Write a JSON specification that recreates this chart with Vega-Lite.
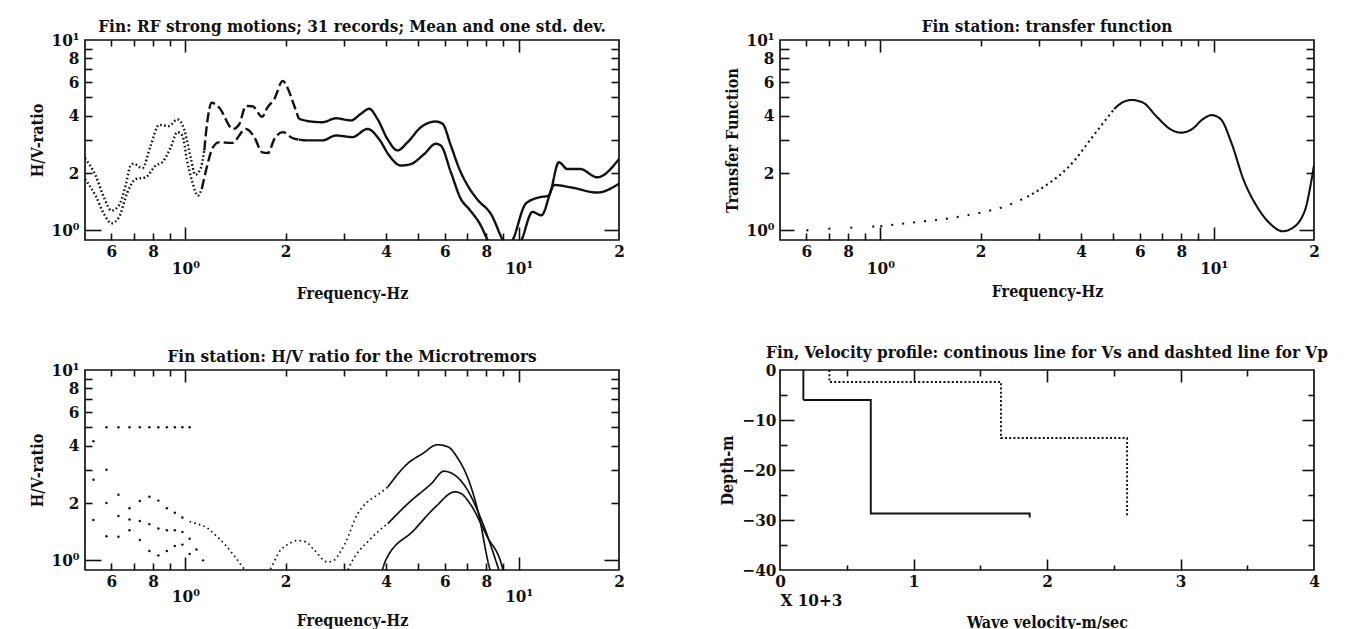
{
  "$schema": "https://vega.github.io/schema/vega-lite/v6.json",
  "background": "white",
  "padding": {"left": 28, "top": 17, "right": 10, "bottom": 2},
  "columns": 2,
  "spacing": {"row": 130, "column": 161},
  "bounds": "flush",
  "resolve": {"scale": {"strokeDash": "independent"}},
  "config": {
    "font": "DejaVu Serif Condensed, DejaVu Serif, serif",
    "view": {"stroke": "#111", "strokeWidth": 1.7},
    "axis": {
      "labelFont": "DejaVu Serif Condensed, DejaVu Serif, serif",
      "labelFontSize": 17, "labelFontWeight": "bold", "labelColor": "#111",
      "titleFont": "DejaVu Serif Condensed, DejaVu Serif, serif",
      "titleFontSize": 16, "titleFontWeight": "bold", "titleColor": "#111",
      "tickColor": "#111", "tickWidth": 1.6, "tickOpacity": 1, "labelOverlap": false, "grid": false
    },
    "title": {"font": "DejaVu Serif Condensed, DejaVu Serif, serif", "fontSize": 17, "fontWeight": "bold", "color": "#111", "anchor": "middle", "frame": "group"}
  },
  "datasets": {
    "quake_hv": [
      {"f":0.5,"v":2.39,"curve":"upper","seg":"dot"},{"f":0.538,"v":1.94,"curve":"upper","seg":"dot"},{"f":0.57,"v":1.49,"curve":"upper","seg":"dot"},{"f":0.6,"v":1.27,"curve":"upper","seg":"dot"},{"f":0.632,"v":1.35,"curve":"upper","seg":"dot"},{"f":0.662,"v":1.72,"curve":"upper","seg":"dot"},{"f":0.685,"v":2.19,"curve":"upper","seg":"dot"},{"f":0.7,"v":2.24,"curve":"upper","seg":"dot"},{"f":0.743,"v":2.12,"curve":"upper","seg":"dot"},{"f":0.787,"v":2.79,"curve":"upper","seg":"dot"},{"f":0.834,"v":3.58,"curve":"upper","seg":"dot"},{"f":0.893,"v":3.53,"curve":"upper","seg":"dot"},{"f":0.946,"v":3.83,"curve":"upper","seg":"dot"},{"f":0.991,"v":3.41,"curve":"upper","seg":"dot"},{"f":1.04,"v":2.37,"curve":"upper","seg":"dot"},{"f":1.07,"v":1.96,"curve":"upper","seg":"dot"},{"f":1.11,"v":2.1,"curve":"upper","seg":"dot"},{"f":1.14,"v":2.63,"curve":"upper","seg":"dot"},
      {"f":1.14,"v":2.63,"curve":"upper","seg":"dash"},{"f":1.16,"v":3.56,"curve":"upper","seg":"dash"},{"f":1.2,"v":4.68,"curve":"upper","seg":"dash"},{"f":1.26,"v":4.44,"curve":"upper","seg":"dash"},{"f":1.39,"v":3.41,"curve":"upper","seg":"dash"},{"f":1.45,"v":3.6,"curve":"upper","seg":"dash"},{"f":1.52,"v":4.5,"curve":"upper","seg":"dash"},{"f":1.59,"v":4.49,"curve":"upper","seg":"dash"},{"f":1.7,"v":3.95,"curve":"upper","seg":"dash"},{"f":1.76,"v":4.4,"curve":"upper","seg":"dash"},{"f":1.85,"v":4.91,"curve":"upper","seg":"dash"},{"f":1.96,"v":6.1,"curve":"upper","seg":"dash"},{"f":2.02,"v":5.66,"curve":"upper","seg":"dash"},{"f":2.12,"v":4.53,"curve":"upper","seg":"dash"},{"f":2.19,"v":3.85,"curve":"upper","seg":"dash"},
      {"f":2.19,"v":3.85,"curve":"upper","seg":"solid"},{"f":2.38,"v":3.73,"curve":"upper","seg":"solid"},{"f":2.58,"v":3.7,"curve":"upper","seg":"solid"},{"f":2.83,"v":3.88,"curve":"upper","seg":"solid"},{"f":3.14,"v":3.78,"curve":"upper","seg":"solid"},{"f":3.36,"v":4.09,"curve":"upper","seg":"solid"},{"f":3.56,"v":4.35,"curve":"upper","seg":"solid"},{"f":3.77,"v":3.85,"curve":"upper","seg":"solid"},{"f":4.04,"v":3.02,"curve":"upper","seg":"solid"},{"f":4.33,"v":2.63,"curve":"upper","seg":"solid"},{"f":4.64,"v":2.9,"curve":"upper","seg":"solid"},{"f":5.09,"v":3.48,"curve":"upper","seg":"solid"},{"f":5.64,"v":3.73,"curve":"upper","seg":"solid"},{"f":5.91,"v":3.63,"curve":"upper","seg":"solid"},{"f":6.26,"v":2.79,"curve":"upper","seg":"solid"},{"f":6.64,"v":2.1,"curve":"upper","seg":"solid"},{"f":7.03,"v":1.72,"curve":"upper","seg":"solid"},{"f":7.5,"v":1.46,"curve":"upper","seg":"solid"},{"f":8.3,"v":1.2,"curve":"upper","seg":"solid"},{"f":8.95,"v":0.89,"curve":"upper","seg":"solid"},{"f":9.25,"v":0.8,"curve":"upper","seg":"solid"},{"f":9.6,"v":0.89,"curve":"upper","seg":"solid"},{"f":10.5,"v":1.38,"curve":"upper","seg":"solid"},{"f":11.5,"v":1.49,"curve":"upper","seg":"solid"},{"f":12.3,"v":1.52,"curve":"upper","seg":"solid"},{"f":13.2,"v":2.28,"curve":"upper","seg":"solid"},{"f":14.0,"v":2.1,"curve":"upper","seg":"solid"},{"f":15.3,"v":2.1,"curve":"upper","seg":"solid"},{"f":17.2,"v":1.9,"curve":"upper","seg":"solid"},{"f":20,"v":2.37,"curve":"upper","seg":"solid"},
      {"f":0.5,"v":1.86,"curve":"mean","seg":"dot"},{"f":0.538,"v":1.52,"curve":"mean","seg":"dot"},{"f":0.57,"v":1.22,"curve":"mean","seg":"dot"},{"f":0.6,"v":1.09,"curve":"mean","seg":"dot"},{"f":0.632,"v":1.17,"curve":"mean","seg":"dot"},{"f":0.67,"v":1.58,"curve":"mean","seg":"dot"},{"f":0.71,"v":1.86,"curve":"mean","seg":"dot"},{"f":0.76,"v":1.9,"curve":"mean","seg":"dot"},{"f":0.815,"v":2.19,"curve":"mean","seg":"dot"},{"f":0.853,"v":2.28,"curve":"mean","seg":"dot"},{"f":0.904,"v":2.73,"curve":"mean","seg":"dot"},{"f":0.946,"v":3.28,"curve":"mean","seg":"dot"},{"f":0.98,"v":3.15,"curve":"mean","seg":"dot"},{"f":1.01,"v":2.37,"curve":"mean","seg":"dot"},{"f":1.05,"v":1.79,"curve":"mean","seg":"dot"},{"f":1.09,"v":1.52,"curve":"mean","seg":"dot"},{"f":1.12,"v":1.65,"curve":"mean","seg":"dot"},
      {"f":1.12,"v":1.65,"curve":"mean","seg":"dash"},{"f":1.15,"v":2.02,"curve":"mean","seg":"dash"},{"f":1.21,"v":2.73,"curve":"mean","seg":"dash"},{"f":1.26,"v":2.9,"curve":"mean","seg":"dash"},{"f":1.38,"v":2.88,"curve":"mean","seg":"dash"},{"f":1.52,"v":3.41,"curve":"mean","seg":"dash"},{"f":1.61,"v":3.09,"curve":"mean","seg":"dash"},{"f":1.7,"v":2.57,"curve":"mean","seg":"dash"},{"f":1.77,"v":2.55,"curve":"mean","seg":"dash"},{"f":1.85,"v":3.02,"curve":"mean","seg":"dash"},{"f":1.96,"v":3.28,"curve":"mean","seg":"dash"},{"f":2.1,"v":3.05,"curve":"mean","seg":"dash"},{"f":2.19,"v":3.0,"curve":"mean","seg":"dash"},
      {"f":2.19,"v":3.0,"curve":"mean","seg":"solid"},{"f":2.32,"v":2.97,"curve":"mean","seg":"solid"},{"f":2.58,"v":2.97,"curve":"mean","seg":"solid"},{"f":2.83,"v":3.15,"curve":"mean","seg":"solid"},{"f":3.17,"v":3.09,"curve":"mean","seg":"solid"},{"f":3.52,"v":3.41,"curve":"mean","seg":"solid"},{"f":3.81,"v":3.02,"curve":"mean","seg":"solid"},{"f":4.09,"v":2.47,"curve":"mean","seg":"solid"},{"f":4.43,"v":2.19,"curve":"mean","seg":"solid"},{"f":4.75,"v":2.23,"curve":"mean","seg":"solid"},{"f":5.21,"v":2.52,"curve":"mean","seg":"solid"},{"f":5.64,"v":2.85,"curve":"mean","seg":"solid"},{"f":5.84,"v":2.79,"curve":"mean","seg":"solid"},{"f":6.26,"v":2.02,"curve":"mean","seg":"solid"},{"f":6.71,"v":1.46,"curve":"mean","seg":"solid"},{"f":7.11,"v":1.29,"curve":"mean","seg":"solid"},{"f":7.7,"v":1.06,"curve":"mean","seg":"solid"},{"f":8.07,"v":0.89,"curve":"mean","seg":"solid"},{"f":9.0,"v":0.7,"curve":"mean","seg":"solid"},{"f":10.2,"v":0.89,"curve":"mean","seg":"solid"},{"f":11.0,"v":1.25,"curve":"mean","seg":"solid"},{"f":11.7,"v":1.2,"curve":"mean","seg":"solid"},{"f":12.8,"v":1.73,"curve":"mean","seg":"solid"},{"f":14.4,"v":1.68,"curve":"mean","seg":"solid"},{"f":17.2,"v":1.58,"curve":"mean","seg":"solid"},{"f":20,"v":1.76,"curve":"mean","seg":"solid"}
    ],
    "transfer": [
      {"f":0.6,"v":1.0,"seg":"s1"},{"f":0.7,"v":1.02,"seg":"s1"},{"f":0.787,"v":1.03,"seg":"s1"},{"f":0.874,"v":1.04,"seg":"s1"},{"f":1.0,"v":1.05,"seg":"s1"},
      {"f":1.0,"v":1.05,"seg":"s2"},{"f":1.31,"v":1.11,"seg":"s2"},{"f":1.52,"v":1.14,"seg":"s2"},{"f":1.77,"v":1.19,"seg":"s2"},{"f":2.05,"v":1.25,"seg":"s2"},{"f":2.38,"v":1.34,"seg":"s2"},{"f":2.76,"v":1.5,"seg":"s2"},
      {"f":2.76,"v":1.5,"seg":"s3"},{"f":3.21,"v":1.77,"seg":"s3"},{"f":3.51,"v":2.0,"seg":"s3"},{"f":3.84,"v":2.35,"seg":"s3"},{"f":4.2,"v":2.89,"seg":"s3"},{"f":4.59,"v":3.54,"seg":"s3"},{"f":5.03,"v":4.34,"seg":"s3"},
      {"f":5.03,"v":4.34,"seg":"s4"},{"f":5.34,"v":4.71,"seg":"s4"},{"f":5.67,"v":4.84,"seg":"s4"},{"f":6.11,"v":4.71,"seg":"s4"},{"f":6.78,"v":3.92,"seg":"s4"},{"f":7.41,"v":3.4,"seg":"s4"},{"f":8.0,"v":3.26,"seg":"s4"},{"f":8.61,"v":3.4,"seg":"s4"},{"f":9.29,"v":3.84,"seg":"s4"},{"f":9.86,"v":4.03,"seg":"s4"},{"f":10.5,"v":3.84,"seg":"s4"},{"f":11.3,"v":2.89,"seg":"s4"},{"f":12.3,"v":1.84,"seg":"s4"},{"f":13.5,"v":1.33,"seg":"s4"},{"f":14.8,"v":1.08,"seg":"s4"},{"f":16.1,"v":0.99,"seg":"s4"},{"f":17.1,"v":1.02,"seg":"s4"},{"f":18.8,"v":1.28,"seg":"s4"},{"f":19.5,"v":1.7,"seg":"s4"},{"f":20,"v":2.2,"seg":"s4"}
    ],
    "micro_lines": [
      {"f":1.03,"v":1.6,"curve":"upper","seg":"dot"},{"f":1.08,"v":1.56,"curve":"upper","seg":"dot"},{"f":1.17,"v":1.47,"curve":"upper","seg":"dot"},{"f":1.23,"v":1.36,"curve":"upper","seg":"dot"},{"f":1.31,"v":1.22,"curve":"upper","seg":"dot"},{"f":1.4,"v":1.06,"curve":"upper","seg":"dot"},{"f":1.52,"v":0.88,"curve":"upper","seg":"dot"},{"f":1.65,"v":0.78,"curve":"upper","seg":"dot"},{"f":1.79,"v":0.89,"curve":"upper","seg":"dot"},{"f":1.93,"v":1.13,"curve":"upper","seg":"dot"},{"f":2.04,"v":1.22,"curve":"upper","seg":"dot"},{"f":2.17,"v":1.27,"curve":"upper","seg":"dot"},{"f":2.3,"v":1.25,"curve":"upper","seg":"dot"},{"f":2.44,"v":1.13,"curve":"upper","seg":"dot"},{"f":2.67,"v":0.98,"curve":"upper","seg":"dot"},{"f":2.79,"v":1.0,"curve":"upper","seg":"dot"},{"f":2.92,"v":1.11,"curve":"upper","seg":"dot"},{"f":3.01,"v":1.22,"curve":"upper","seg":"dot"},{"f":3.29,"v":1.76,"curve":"upper","seg":"dot"},{"f":3.49,"v":2.0,"curve":"upper","seg":"dot"},{"f":3.82,"v":2.24,"curve":"upper","seg":"dot"},{"f":4.05,"v":2.43,"curve":"upper","seg":"dot"},
      {"f":4.05,"v":2.43,"curve":"upper","seg":"solid"},{"f":4.64,"v":3.22,"curve":"upper","seg":"solid"},{"f":5.14,"v":3.63,"curve":"upper","seg":"solid"},{"f":5.71,"v":4.05,"curve":"upper","seg":"solid"},{"f":6.15,"v":3.94,"curve":"upper","seg":"solid"},{"f":6.53,"v":3.49,"curve":"upper","seg":"solid"},{"f":7.14,"v":2.53,"curve":"upper","seg":"solid"},{"f":7.58,"v":1.76,"curve":"upper","seg":"solid"},{"f":8.17,"v":0.92,"curve":"upper","seg":"solid"},{"f":8.4,"v":0.8,"curve":"upper","seg":"solid"},
      {"f":3.0,"v":0.8,"curve":"mean","seg":"dot"},{"f":3.1,"v":0.92,"curve":"mean","seg":"dot"},{"f":3.6,"v":1.3,"curve":"mean","seg":"dot"},{"f":4.05,"v":1.56,"curve":"mean","seg":"dot"},
      {"f":4.05,"v":1.56,"curve":"mean","seg":"solid"},{"f":4.7,"v":2.02,"curve":"mean","seg":"solid"},{"f":5.47,"v":2.53,"curve":"mean","seg":"solid"},{"f":5.97,"v":2.94,"curve":"mean","seg":"solid"},{"f":6.34,"v":2.85,"curve":"mean","seg":"solid"},{"f":6.93,"v":2.43,"curve":"mean","seg":"solid"},{"f":7.81,"v":1.56,"curve":"mean","seg":"solid"},{"f":8.67,"v":0.92,"curve":"mean","seg":"solid"},{"f":8.9,"v":0.8,"curve":"mean","seg":"solid"},
      {"f":3.85,"v":0.82,"curve":"lower","seg":"solid"},{"f":3.99,"v":1.0,"curve":"lower","seg":"solid"},{"f":4.85,"v":1.44,"curve":"lower","seg":"solid"},{"f":5.63,"v":1.91,"curve":"lower","seg":"solid"},{"f":6.44,"v":2.29,"curve":"lower","seg":"solid"},{"f":6.73,"v":2.24,"curve":"lower","seg":"solid"},{"f":7.14,"v":1.99,"curve":"lower","seg":"solid"},{"f":8.05,"v":1.33,"curve":"lower","seg":"solid"},{"f":8.93,"v":0.92,"curve":"lower","seg":"solid"},{"f":9.1,"v":0.8,"curve":"lower","seg":"solid"}
    ],
    "micro_dots": [
      {"f":0.53,"v":4.23},{"f":0.53,"v":2.65},{"f":0.53,"v":1.63},
      {"f":0.58,"v":5.0},{"f":0.63,"v":5.0},{"f":0.68,"v":5.0},{"f":0.73,"v":5.0},{"f":0.78,"v":5.0},{"f":0.83,"v":5.0},{"f":0.88,"v":5.0},{"f":0.93,"v":5.0},{"f":0.98,"v":5.0},{"f":1.03,"v":5.0},
      {"f":0.58,"v":2.99},{"f":0.58,"v":2.0},{"f":0.58,"v":1.34},
      {"f":0.63,"v":2.21},{"f":0.63,"v":1.71},{"f":0.63,"v":1.33},
      {"f":0.68,"v":1.88},{"f":0.68,"v":1.64},{"f":0.68,"v":1.44},
      {"f":0.73,"v":2.05},{"f":0.73,"v":1.61},{"f":0.73,"v":1.28},
      {"f":0.78,"v":2.16},{"f":0.78,"v":1.55},{"f":0.78,"v":1.12},
      {"f":0.83,"v":2.06},{"f":0.83,"v":1.47},{"f":0.83,"v":1.06},
      {"f":0.88,"v":1.88},{"f":0.88,"v":1.44},{"f":0.88,"v":1.12},
      {"f":0.93,"v":1.78},{"f":0.93,"v":1.44},{"f":0.93,"v":1.19},
      {"f":0.98,"v":1.68},{"f":0.98,"v":1.41},{"f":0.98,"v":1.21},
      {"f":1.03,"v":1.3},{"f":1.03,"v":1.08},
      {"f":1.08,"v":1.14},{"f":1.13,"v":1.0}
    ],
    "profile": [
      {"wave":"Vs","i":0,"vel":0.175,"depth":0},{"wave":"Vs","i":1,"vel":0.175,"depth":-6},{"wave":"Vs","i":2,"vel":0.68,"depth":-6},{"wave":"Vs","i":3,"vel":0.68,"depth":-28.7},{"wave":"Vs","i":4,"vel":1.87,"depth":-28.7},{"wave":"Vs","i":5,"vel":1.87,"depth":-29.5},
      {"wave":"Vp","i":0,"vel":0.37,"depth":0},{"wave":"Vp","i":1,"vel":0.37,"depth":-2.4},{"wave":"Vp","i":2,"vel":1.655,"depth":-2.4},{"wave":"Vp","i":3,"vel":1.655,"depth":-13.6},{"wave":"Vp","i":4,"vel":2.6,"depth":-13.6},{"wave":"Vp","i":5,"vel":2.6,"depth":-29.5}
    ]
  },
  "concat": [
    {
      "width": 534, "height": 200,
      "title": {"text": "Fin: RF strong motions; 31 records; Mean and one std. dev.", "offset": -5},
      "data": {"name": "quake_hv"},
      "resolve": {"axis": {"x": "independent", "y": "independent"}},
      "layer": [
        {
          "mark": {"type": "line", "interpolate": "monotone", "clip": true, "strokeWidth": 2.4, "color": "#111"},
          "encoding": {
            "x": {"field": "f", "type": "quantitative", "scale": {"type": "log", "domain": [0.5, 20], "nice": false},
              "axis": {"orient": "bottom", "values": [0.6,0.7,0.8,0.9,2,3,4,5,6,7,8,9], "ticks": true, "labels": true, "labelExpr": "''", "labelFontSize": 1, "labelPadding": 0, "domain": false, "title": null, "tickSize": 7, "offset": -7}},
            "y": {"field": "v", "type": "quantitative", "scale": {"type": "log", "domain": [0.89, 10], "nice": false},
              "axis": {"orient": "left", "values": [2,3,4,5,6,7,8,9], "ticks": true, "labels": true, "labelExpr": "''", "labelFontSize": 1, "labelPadding": 0, "domain": false, "title": null, "tickSize": 7, "offset": -7}},
            "detail": {"field": "curve"},
            "strokeDash": {"field": "seg", "type": "nominal", "legend": null,
              "scale": {"domain": ["dot", "dash", "solid"], "range": [[1.6, 2.4], [10, 4], [1, 0]]}}
          }
        },
        {
          "mark": {"type": "point", "opacity": 0},
          "encoding": {
            "x": {"field": "f", "type": "quantitative", "scale": {"type": "log", "domain": [0.5, 20], "nice": false},
              "axis": {"orient": "bottom", "values": [1, 10], "ticks": true, "labels": true, "labelExpr": "''", "labelFontSize": 1, "labelPadding": 0, "domain": false, "title": null, "tickSize": 13, "offset": -13}},
            "y": {"field": "v", "type": "quantitative", "scale": {"type": "log", "domain": [0.89, 10], "nice": false},
              "axis": {"orient": "left", "values": [1], "ticks": true, "labels": true, "labelExpr": "''", "labelFontSize": 1, "labelPadding": 0, "domain": false, "title": null, "tickSize": 16, "offset": -16}}
          }
        },
        {
          "mark": {"type": "point", "opacity": 0},
          "encoding": {
            "x": {"field": "f", "type": "quantitative", "scale": {"type": "log", "domain": [0.5, 20], "nice": false},
              "axis": {"orient": "bottom", "values": [0.6,0.8,2,4,6,8,20], "ticks": false, "tickSize": 0, "domain": false, "title": null, "labelFlush": false, "labelPadding": 3,
                "labelExpr": "datum.value < 1 ? '' + round(datum.value * 10) : datum.value < 10 ? '' + round(datum.value) : '' + round(datum.value / 10)"}},
            "y": {"field": "v", "type": "quantitative", "scale": {"type": "log", "domain": [0.89, 10], "nice": false},
              "axis": {"orient": "left", "values": [1,2,4,6,8,10], "ticks": false, "tickSize": 0, "domain": false, "labelFlush": false, "labelPadding": 6,
                "labelExpr": "datum.value == 1 ? '10⁰' : datum.value == 10 ? '10¹' : '' + datum.value", "title": "H/V-ratio", "titlePadding": 6}}
          }
        },
        {
          "mark": {"type": "point", "opacity": 0},
          "encoding": {
            "x": {"field": "f", "type": "quantitative", "scale": {"type": "log", "domain": [0.5, 20], "nice": false},
              "axis": {"orient": "bottom", "values": [1, 10], "ticks": false, "tickSize": 0, "domain": false, "labelFlush": false, "labelPadding": 20,
                "labelExpr": "datum.value == 1 ? '10⁰' : '10¹'", "title": "Frequency-Hz", "titlePadding": 9}},
            "y": {"field": "v", "type": "quantitative", "scale": {"type": "log", "domain": [0.89, 10], "nice": false},
              "axis": {"orient": "right", "values": [2,3,4,5,6,7,8,9], "ticks": true, "labels": true, "labelExpr": "''", "labelFontSize": 1, "labelPadding": 0, "domain": false, "title": null, "tickSize": 8, "offset": -8}}
          }
        },
        {
          "mark": {"type": "point", "opacity": 0},
          "encoding": {
            "x": {"field": "f", "type": "quantitative", "scale": {"type": "log", "domain": [0.5, 20], "nice": false},
              "axis": {"orient": "top", "values": [0.6,0.7,0.8,0.9,2,3,4,5,6,7,8,9], "ticks": true, "labels": true, "labelExpr": "''", "labelFontSize": 1, "labelPadding": 0, "domain": false, "title": null, "tickSize": 6, "offset": -6}},
            "y": {"field": "v", "type": "quantitative", "scale": {"type": "log", "domain": [0.89, 10], "nice": false},
              "axis": {"orient": "right", "values": [1], "ticks": true, "labels": true, "labelExpr": "''", "labelFontSize": 1, "labelPadding": 0, "domain": false, "title": null, "tickSize": 15, "offset": -15}}
          }
        },
        {
          "mark": {"type": "point", "opacity": 0},
          "encoding": {
            "x": {"field": "f", "type": "quantitative", "scale": {"type": "log", "domain": [0.5, 20], "nice": false},
              "axis": {"orient": "top", "values": [1, 10], "ticks": true, "labels": true, "labelExpr": "''", "labelFontSize": 1, "labelPadding": 0, "domain": false, "title": null, "tickSize": 12, "offset": -12}},
            "y": {"field": "v", "type": "quantitative", "scale": {"type": "log", "domain": [0.89, 10], "nice": false}, "axis": null}
          }
        }
      ]
    },
    {
      "width": 534, "height": 200,
      "title": {"text": "Fin station: transfer function", "offset": -5},
      "data": {"name": "transfer"},
      "resolve": {"axis": {"x": "independent", "y": "independent"}},
      "layer": [
        {
          "mark": {"type": "line", "interpolate": "monotone", "clip": true, "strokeWidth": 2.1, "color": "#111"},
          "encoding": {
            "x": {"field": "f", "type": "quantitative", "scale": {"type": "log", "domain": [0.5, 20], "nice": false},
              "axis": {"orient": "bottom", "values": [0.6,0.7,0.8,0.9,2,3,4,5,6,7,8,9], "ticks": true, "labels": true, "labelExpr": "''", "labelFontSize": 1, "labelPadding": 0, "domain": false, "title": null, "tickSize": 7, "offset": -7}},
            "y": {"field": "v", "type": "quantitative", "scale": {"type": "log", "domain": [0.89, 10], "nice": false},
              "axis": {"orient": "left", "values": [2,3,4,5,6,7,8,9], "ticks": true, "labels": true, "labelExpr": "''", "labelFontSize": 1, "labelPadding": 0, "domain": false, "title": null, "tickSize": 9, "offset": -9}},
            "strokeDash": {"field": "seg", "type": "nominal", "legend": null,
              "scale": {"domain": ["s1", "s2", "s3", "s4"], "range": [[2, 20], [2, 9], [2, 3.5], [1, 0]]}}
          }
        },
        {
          "mark": {"type": "point", "opacity": 0},
          "encoding": {
            "x": {"field": "f", "type": "quantitative", "scale": {"type": "log", "domain": [0.5, 20], "nice": false},
              "axis": {"orient": "bottom", "values": [1, 10], "ticks": true, "labels": true, "labelExpr": "''", "labelFontSize": 1, "labelPadding": 0, "domain": false, "title": null, "tickSize": 13, "offset": -13}},
            "y": {"field": "v", "type": "quantitative", "scale": {"type": "log", "domain": [0.89, 10], "nice": false},
              "axis": {"orient": "left", "values": [1], "ticks": true, "labels": true, "labelExpr": "''", "labelFontSize": 1, "labelPadding": 0, "domain": false, "title": null, "tickSize": 14, "offset": -14}}
          }
        },
        {
          "mark": {"type": "point", "opacity": 0},
          "encoding": {
            "x": {"field": "f", "type": "quantitative", "scale": {"type": "log", "domain": [0.5, 20], "nice": false},
              "axis": {"orient": "bottom", "values": [0.6,0.8,2,4,6,8,20], "ticks": false, "tickSize": 0, "domain": false, "title": null, "labelFlush": false, "labelPadding": 3,
                "labelExpr": "datum.value < 1 ? '' + round(datum.value * 10) : datum.value < 10 ? '' + round(datum.value) : '' + round(datum.value / 10)"}},
            "y": {"field": "v", "type": "quantitative", "scale": {"type": "log", "domain": [0.89, 10], "nice": false},
              "axis": {"orient": "left", "values": [1,2,4,6,8,10], "ticks": false, "tickSize": 0, "domain": false, "labelFlush": false, "labelPadding": 6,
                "labelExpr": "datum.value == 1 ? '10⁰' : datum.value == 10 ? '10¹' : '' + datum.value", "title": "Transfer Function", "titlePadding": 6}}
          }
        },
        {
          "mark": {"type": "point", "opacity": 0},
          "encoding": {
            "x": {"field": "f", "type": "quantitative", "scale": {"type": "log", "domain": [0.5, 20], "nice": false},
              "axis": {"orient": "bottom", "values": [1, 10], "ticks": false, "tickSize": 0, "domain": false, "labelFlush": false, "labelPadding": 20,
                "labelExpr": "datum.value == 1 ? '10⁰' : '10¹'", "title": "Frequency-Hz", "titlePadding": 7}},
            "y": {"field": "v", "type": "quantitative", "scale": {"type": "log", "domain": [0.89, 10], "nice": false},
              "axis": {"orient": "right", "values": [2,3,4,5,6,7,8,9], "ticks": true, "labels": true, "labelExpr": "''", "labelFontSize": 1, "labelPadding": 0, "domain": false, "title": null, "tickSize": 8, "offset": -8}}
          }
        },
        {
          "mark": {"type": "point", "opacity": 0},
          "encoding": {
            "x": {"field": "f", "type": "quantitative", "scale": {"type": "log", "domain": [0.5, 20], "nice": false},
              "axis": {"orient": "top", "values": [0.6,0.7,0.8,0.9,2,3,4,5,6,7,8,9], "ticks": true, "labels": true, "labelExpr": "''", "labelFontSize": 1, "labelPadding": 0, "domain": false, "title": null, "tickSize": 6, "offset": -6}},
            "y": {"field": "v", "type": "quantitative", "scale": {"type": "log", "domain": [0.89, 10], "nice": false},
              "axis": {"orient": "right", "values": [1], "ticks": true, "labels": true, "labelExpr": "''", "labelFontSize": 1, "labelPadding": 0, "domain": false, "title": null, "tickSize": 15, "offset": -15}}
          }
        },
        {
          "mark": {"type": "point", "opacity": 0},
          "encoding": {
            "x": {"field": "f", "type": "quantitative", "scale": {"type": "log", "domain": [0.5, 20], "nice": false},
              "axis": {"orient": "top", "values": [1, 10], "ticks": true, "labels": true, "labelExpr": "''", "labelFontSize": 1, "labelPadding": 0, "domain": false, "title": null, "tickSize": 12, "offset": -12}},
            "y": {"field": "v", "type": "quantitative", "scale": {"type": "log", "domain": [0.89, 10], "nice": false}, "axis": null}
          }
        }
      ]
    },
    {
      "width": 534, "height": 200,
      "title": {"text": "Fin station: H/V ratio for the Microtremors", "offset": -5},
      "resolve": {"axis": {"x": "independent", "y": "independent"}},
      "layer": [
        {
          "data": {"name": "micro_lines"},
          "mark": {"type": "line", "interpolate": "monotone", "clip": true, "strokeWidth": 1.7, "color": "#111"},
          "encoding": {
            "x": {"field": "f", "type": "quantitative", "scale": {"type": "log", "domain": [0.5, 20], "nice": false},
              "axis": {"orient": "bottom", "values": [0.6,0.7,0.8,0.9,2,3,4,5,6,7,8,9], "ticks": true, "labels": true, "labelExpr": "''", "labelFontSize": 1, "labelPadding": 0, "domain": false, "title": null, "tickSize": 7, "offset": -7}},
            "y": {"field": "v", "type": "quantitative", "scale": {"type": "log", "domain": [0.89, 10], "nice": false},
              "axis": {"orient": "left", "values": [2,3,4,5,6,7,8,9], "ticks": true, "labels": true, "labelExpr": "''", "labelFontSize": 1, "labelPadding": 0, "domain": false, "title": null, "tickSize": 7, "offset": -7}},
            "detail": {"field": "curve"},
            "strokeDash": {"field": "seg", "type": "nominal", "legend": null,
              "scale": {"domain": ["dot", "solid"], "range": [[1.6, 3.2], [1, 0]]}}
          }
        },
        {
          "data": {"name": "micro_dots"},
          "mark": {"type": "point", "filled": true, "size": 6, "opacity": 1, "color": "#111", "clip": true},
          "encoding": {
            "x": {"field": "f", "type": "quantitative", "scale": {"type": "log", "domain": [0.5, 20], "nice": false},
              "axis": {"orient": "bottom", "values": [1, 10], "ticks": true, "labels": true, "labelExpr": "''", "labelFontSize": 1, "labelPadding": 0, "domain": false, "title": null, "tickSize": 13, "offset": -13}},
            "y": {"field": "v", "type": "quantitative", "scale": {"type": "log", "domain": [0.89, 10], "nice": false},
              "axis": {"orient": "left", "values": [1], "ticks": true, "labels": true, "labelExpr": "''", "labelFontSize": 1, "labelPadding": 0, "domain": false, "title": null, "tickSize": 16, "offset": -16}}
          }
        },
        {
          "data": {"name": "micro_dots"},
          "mark": {"type": "point", "opacity": 0},
          "encoding": {
            "x": {"field": "f", "type": "quantitative", "scale": {"type": "log", "domain": [0.5, 20], "nice": false},
              "axis": {"orient": "bottom", "values": [0.6,0.8,2,4,6,8,20], "ticks": false, "tickSize": 0, "domain": false, "title": null, "labelFlush": false, "labelPadding": 3,
                "labelExpr": "datum.value < 1 ? '' + round(datum.value * 10) : datum.value < 10 ? '' + round(datum.value) : '' + round(datum.value / 10)"}},
            "y": {"field": "v", "type": "quantitative", "scale": {"type": "log", "domain": [0.89, 10], "nice": false},
              "axis": {"orient": "left", "values": [1,2,4,6,8,10], "ticks": false, "tickSize": 0, "domain": false, "labelFlush": false, "labelPadding": 6,
                "labelExpr": "datum.value == 1 ? '10⁰' : datum.value == 10 ? '10¹' : '' + datum.value", "title": "H/V-ratio", "titlePadding": 6}}
          }
        },
        {
          "data": {"name": "micro_dots"},
          "mark": {"type": "point", "opacity": 0},
          "encoding": {
            "x": {"field": "f", "type": "quantitative", "scale": {"type": "log", "domain": [0.5, 20], "nice": false},
              "axis": {"orient": "bottom", "values": [1, 10], "ticks": false, "tickSize": 0, "domain": false, "labelFlush": false, "labelPadding": 18,
                "labelExpr": "datum.value == 1 ? '10⁰' : '10¹'", "title": "Frequency-Hz", "titlePadding": 8}},
            "y": {"field": "v", "type": "quantitative", "scale": {"type": "log", "domain": [0.89, 10], "nice": false},
              "axis": {"orient": "right", "values": [2,3,4,5,6,7,8,9], "ticks": true, "labels": true, "labelExpr": "''", "labelFontSize": 1, "labelPadding": 0, "domain": false, "title": null, "tickSize": 8, "offset": -8}}
          }
        },
        {
          "data": {"name": "micro_dots"},
          "mark": {"type": "point", "opacity": 0},
          "encoding": {
            "x": {"field": "f", "type": "quantitative", "scale": {"type": "log", "domain": [0.5, 20], "nice": false},
              "axis": {"orient": "top", "values": [0.6,0.7,0.8,0.9,2,3,4,5,6,7,8,9], "ticks": true, "labels": true, "labelExpr": "''", "labelFontSize": 1, "labelPadding": 0, "domain": false, "title": null, "tickSize": 6, "offset": -6}},
            "y": {"field": "v", "type": "quantitative", "scale": {"type": "log", "domain": [0.89, 10], "nice": false},
              "axis": {"orient": "right", "values": [1], "ticks": true, "labels": true, "labelExpr": "''", "labelFontSize": 1, "labelPadding": 0, "domain": false, "title": null, "tickSize": 15, "offset": -15}}
          }
        },
        {
          "data": {"name": "micro_dots"},
          "mark": {"type": "point", "opacity": 0},
          "encoding": {
            "x": {"field": "f", "type": "quantitative", "scale": {"type": "log", "domain": [0.5, 20], "nice": false},
              "axis": {"orient": "top", "values": [1, 10], "ticks": true, "labels": true, "labelExpr": "''", "labelFontSize": 1, "labelPadding": 0, "domain": false, "title": null, "tickSize": 12, "offset": -12}},
            "y": {"field": "v", "type": "quantitative", "scale": {"type": "log", "domain": [0.89, 10], "nice": false}, "axis": null}
          }
        }
      ]
    },
    {
      "width": 534, "height": 200,
      "title": {"text": "Fin, Velocity profile: continous line for Vs and dashted line for Vp", "offset": -1},
      "data": {"name": "profile"},
      "resolve": {"axis": {"x": "independent", "y": "independent"}},
      "layer": [
        {
          "mark": {"type": "line", "clip": true, "strokeWidth": 1.9, "color": "#111"},
          "encoding": {
            "x": {"field": "vel", "type": "quantitative", "scale": {"domain": [0, 4], "nice": false, "zero": false},
              "axis": {"orient": "bottom", "values": [1,2,3], "ticks": true, "labels": true, "labelExpr": "''", "labelFontSize": 1, "labelPadding": 0, "domain": false, "title": null, "tickSize": 11, "offset": -11}},
            "y": {"field": "depth", "type": "quantitative", "scale": {"domain": [-40, 0], "nice": false, "zero": false},
              "axis": {"orient": "left", "values": [-30,-20,-10], "ticks": true, "labels": true, "labelExpr": "''", "labelFontSize": 1, "labelPadding": 0, "domain": false, "title": null, "tickSize": 14, "offset": -14}},
            "order": {"field": "i"},
            "detail": {"field": "wave"},
            "strokeDash": {"field": "wave", "type": "nominal", "legend": null,
              "scale": {"domain": ["Vs", "Vp"], "range": [[1, 0], [2, 2.2]]}}
          }
        },
        {
          "mark": {"type": "point", "opacity": 0},
          "encoding": {
            "x": {"field": "vel", "type": "quantitative", "scale": {"domain": [0, 4], "nice": false, "zero": false},
              "axis": {"orient": "bottom", "values": [0.5,1.5,2.5,3.5], "ticks": true, "labels": true, "labelExpr": "''", "labelFontSize": 1, "labelPadding": 0, "domain": false, "title": null, "tickSize": 5, "offset": -5}},
            "y": {"field": "depth", "type": "quantitative", "scale": {"domain": [-40, 0], "nice": false, "zero": false},
              "axis": {"orient": "left", "values": [-35,-25,-15,-5], "ticks": true, "labels": true, "labelExpr": "''", "labelFontSize": 1, "labelPadding": 0, "domain": false, "title": null, "tickSize": 7, "offset": -7}}
          }
        },
        {
          "mark": {"type": "point", "opacity": 0},
          "encoding": {
            "x": {"field": "vel", "type": "quantitative", "scale": {"domain": [0, 4], "nice": false, "zero": false},
              "axis": {"orient": "bottom", "values": [0,1,2,3,4], "ticks": false, "tickSize": 0, "domain": false, "title": null, "labelFlush": false, "labelPadding": 3, "format": "d"}},
            "y": {"field": "depth", "type": "quantitative", "scale": {"domain": [-40, 0], "nice": false, "zero": false},
              "axis": {"orient": "left", "values": [0,-10,-20,-30,-40], "ticks": false, "tickSize": 0, "domain": false, "labelFlush": false, "labelPadding": 4, "format": "d",
                "title": "Depth-m", "titlePadding": 6}}
          }
        },
        {
          "mark": {"type": "point", "opacity": 0},
          "encoding": {
            "x": {"field": "vel", "type": "quantitative", "scale": {"domain": [0, 4], "nice": false, "zero": false},
              "axis": {"orient": "bottom", "values": [0], "ticks": false, "tickSize": 0, "domain": false, "labelFlush": false, "labelAlign": "left", "labelPadding": 22,
                "labelExpr": "'X 10+3'", "title": "Wave velocity-m/sec", "titlePadding": 6}},
            "y": {"field": "depth", "type": "quantitative", "scale": {"domain": [-40, 0], "nice": false, "zero": false},
              "axis": {"orient": "right", "values": [-30,-20,-10], "ticks": true, "labels": true, "labelExpr": "''", "labelFontSize": 1, "labelPadding": 0, "domain": false, "title": null, "tickSize": 12, "offset": -12}}
          }
        },
        {
          "mark": {"type": "point", "opacity": 0},
          "encoding": {
            "x": {"field": "vel", "type": "quantitative", "scale": {"domain": [0, 4], "nice": false, "zero": false},
              "axis": {"orient": "top", "values": [1,2,3], "ticks": true, "labels": true, "labelExpr": "''", "labelFontSize": 1, "labelPadding": 0, "domain": false, "title": null, "tickSize": 12, "offset": -12}},
            "y": {"field": "depth", "type": "quantitative", "scale": {"domain": [-40, 0], "nice": false, "zero": false},
              "axis": {"orient": "right", "values": [-35,-25,-15,-5], "ticks": true, "labels": true, "labelExpr": "''", "labelFontSize": 1, "labelPadding": 0, "domain": false, "title": null, "tickSize": 6, "offset": -6}}
          }
        },
        {
          "mark": {"type": "point", "opacity": 0},
          "encoding": {
            "x": {"field": "vel", "type": "quantitative", "scale": {"domain": [0, 4], "nice": false, "zero": false},
              "axis": {"orient": "top", "values": [0.5,1.5,2.5,3.5], "ticks": true, "labels": true, "labelExpr": "''", "labelFontSize": 1, "labelPadding": 0, "domain": false, "title": null, "tickSize": 6, "offset": -6}},
            "y": {"field": "depth", "type": "quantitative", "scale": {"domain": [-40, 0], "nice": false, "zero": false}, "axis": null}
          }
        }
      ]
    }
  ]
}
